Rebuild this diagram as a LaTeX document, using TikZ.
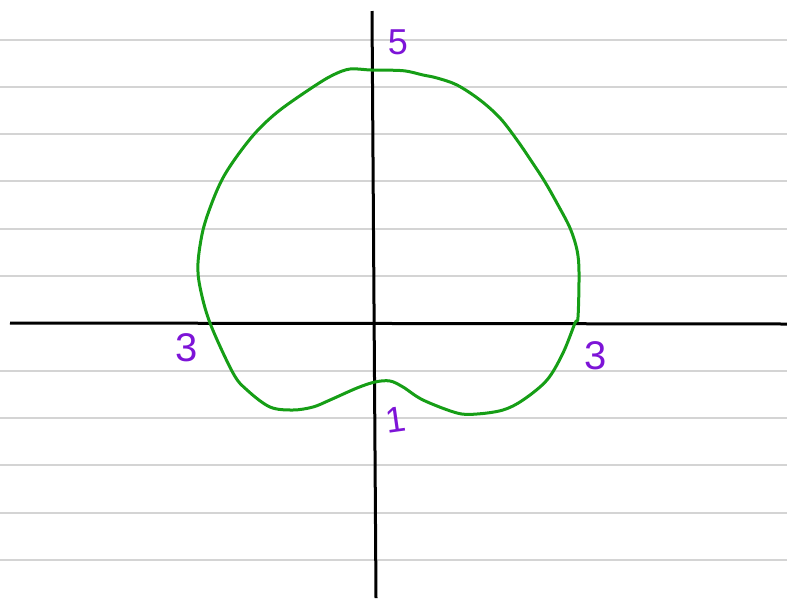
\documentclass[tikz,border=0pt]{standalone}
\usepackage{fontspec}
\setmainfont{Liberation Sans}
\definecolor{ruling}{RGB}{212,212,212}
\definecolor{curvegreen}{RGB}{22,158,22}
\definecolor{penpurple}{RGB}{125,20,215}
\begin{document}
\begin{tikzpicture}[x=1pt,y=-1pt,
  rule/.style={ruling,line width=1.5pt},
  axisline/.style={black,line width=3pt},
  curveline/.style={curvegreen,line width=3pt,line join=round},
  lbl/.style={penpurple,font=\fontsize{36}{36}\selectfont,inner sep=0pt}]
  \useasboundingbox (0,0) rectangle (787,598);
  \foreach \y in {40,87,134,181,229,276,371,418,465,513,560}
    \draw[rule] (0,\y)--(787,\y);

  \coordinate (xl) at (10,323);
  \coordinate (xr) at (787,324);
  \coordinate (yt) at (372,11);
  \coordinate (yb) at (376,598);
  \draw[axisline] (xl)--(xr);
  \draw[axisline] (yt)--(yb);

  \draw[curveline] plot[smooth cycle,tension=0.55] coordinates {
    (371,70) (403,70.7) (423,75) (437,78) (457,85) (480,100) (500,118)
    (517,140) (532,162) (545,182) (558,205) (570,228) (577,250) (579,272)
    (578,317) (575,323) (563,353) (547,380) (523,400) (503,410) (477,414)
    (457,413) (423,400) (403,387) (390,381) (375,382) (357,388) (330,400)
    (313,407) (293,410) (270,407) (247,390) (233,373) (210,323) (200,287)
    (198,263) (203,230) (213,200) (224,176) (240,152) (258,130) (280,110)
    (313,87) (333,75) (350,69)};

  \node[lbl] (top) at (398,42) {5};
  \node[lbl,font=\fontsize{40}{40}\selectfont] (left) at (187,348) {3};
  \node[lbl,font=\fontsize{40}{40}\selectfont] (right) at (596,356) {3};
  \node[lbl,rotate=8] (bottom) at (396,420) {1};
\end{tikzpicture}
\end{document}
